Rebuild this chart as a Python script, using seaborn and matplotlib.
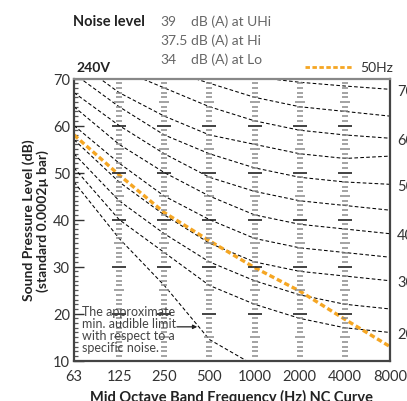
import numpy as np
import pandas as pd
import matplotlib
matplotlib.use("Agg")
import matplotlib.pyplot as plt
import seaborn as sns

# ---------------------------------------------------------
# data
# ---------------------------------------------------------
freq_labels = ["63", "125", "250", "500", "1000", "2000", "4000", "8000"]

nc_levels = [20, 25, 30, 35, 40, 45, 50, 55, 60, 65, 70]
nc_20 = [51, 40, 33, 26, 22, 19, 17, 16]
nc_25 = [54, 44, 37, 31, 27, 24, 22, 21]
nc_30 = [57, 48, 41, 35, 31, 29, 28, 27]
nc_35 = [60, 52, 45, 40, 36, 34, 33, 32]
nc_40 = [64, 56, 50, 45, 41, 39, 38, 37]
nc_45 = [67, 60, 54, 49, 46, 44, 43, 42]
nc_50 = [71, 64, 58, 54, 51, 49, 48, 47.5]
nc_55 = [74, 67, 62, 58, 56, 54, 53, 53.5]
nc_60 = [77, 72, 68, 64, 61, 59, 58, 57.3]
nc_65 = [80, 76, 72, 69, 66, 64, 63, 62]
nc_70 = [83, 79, 75, 72, 70.3, 69.2, 68.4, 67.7]
nc_curves = [nc_20, nc_25, nc_30, nc_35, nc_40, nc_45,
             nc_50, nc_55, nc_60, nc_65, nc_70]

# min. audible limit (only up to 1000 Hz, drops below chart after)
min_audible = [48, 36, 26, 14.5, 9]

# measured unit, 50Hz
spl_50hz = [58, 49.5, 41.5, 35.5, 29.8, 24.8, 18.8, 13]

noise_values = ["39", "37.5", "34"]
noise_modes = ["dB (A) at UHi", "dB (A) at Hi", "dB (A) at Lo"]

# ---------------------------------------------------------
# figure
# ---------------------------------------------------------
sns.set_style("white")
plt.rcParams["font.family"] = ["Lato", "DejaVu Sans"]

W, H = 407, 402
fig = plt.figure(figsize=(W / 100, H / 100), dpi=100)
ax = fig.add_axes([74 / W, 1 - 361.7 / H, (390 - 74) / W, (361.7 - 79.5) / H])

pos = np.arange(len(freq_labels))

# NC curves
for curve in nc_curves:
    sns.lineplot(x=pos, y=curve, ax=ax, color="black",
                 linestyle=(0, (3.5, 2.2)), linewidth=0.75, sort=False)

sns.lineplot(x=pos[:len(min_audible)], y=min_audible, ax=ax, color="black",
             linestyle=(0, (3.5, 2.2)), linewidth=0.75, sort=False)

# 50Hz
sns.lineplot(x=pos, y=spl_50hz, ax=ax, color="#f5a623",
             linestyle=(0, (1.6, 0.9)), linewidth=2.4, sort=False)

# tick columns at each frequency
for p in pos[1:-1]:
    lv = np.arange(11, 70)
    minor = lv[lv % 5 != 0]
    mid = lv[(lv % 5 == 0) & (lv % 10 != 0)]
    major = np.arange(20, 70, 10)
    ax.plot([p] * len(minor), minor, ls="none", marker="_", ms=4.2,
            mew=1.1, color="#8a8a8a")
    ax.plot([p] * len(mid), mid, ls="none", marker="_", ms=6.5,
            mew=1.1, color="#8a8a8a")
    ax.plot([p] * len(major), major, ls="none", marker="_", ms=10,
            mew=1.2, color="#222222")

ax.set_xlim(0, 7)
ax.set_ylim(10, 70)
ax.set_xticks(pos)
ax.set_xticklabels(freq_labels)
ax.set_yticks(np.arange(10, 71, 10))
ax.set_yticks(np.arange(10, 71, 1), minor=True)
ax.tick_params(axis="x", length=0, pad=6, labelsize=10.5, labelcolor="#333333")
ax.tick_params(axis="y", which="major", direction="in", length=7, width=1,
               left=True, right=True, labelsize=10.5, labelcolor="#333333", pad=3,
               color="#333333")
ax.tick_params(axis="y", which="minor", direction="in", length=3.2, width=0.9,
               left=True, right=True, color="#555555")

for side in ["left", "bottom", "right"]:
    ax.spines[side].set_color("#444444")
    ax.spines[side].set_linewidth(1.6)
ax.spines["top"].set_color("#888888")
ax.spines["top"].set_linewidth(1.6)

# right side NC labels at 8000 Hz end of curves
ax2 = ax.twinx()
ax2.set_ylim(10, 70)
right_ticks = [c[-1] for c, n in zip(nc_curves, nc_levels) if n % 10 == 0]
right_labels = [str(n) for n in nc_levels if n % 10 == 0]
ax2.set_yticks(right_ticks)
ax2.set_yticklabels(right_labels)
ax2.tick_params(axis="y", length=0, pad=5, labelsize=10.5, labelcolor="#333333")
for s in ax2.spines.values():
    s.set_visible(False)

# labels
ax.set_xlabel("Mid Octave Band Frequency (Hz) NC Curve", fontsize=10.5,
              fontweight="bold", color="#222222", labelpad=4)
ax.set_ylabel("Sound Pressure Level (dB)\n(standard 0.0002\u00b5 bar)",
              fontsize=10, fontweight="bold", color="#222222",
              linespacing=1.1, labelpad=3)

# annotation
ax.annotate("", xy=(2.73, 17.2), xytext=(2.28, 17.2),
            arrowprops=dict(arrowstyle="-|>", color="#222222", lw=0.9,
                            mutation_scale=6, shrinkA=0, shrinkB=0))
ax.text(0.17, 21.9, "The approximate\nmin. audible limit\nwith respect to a\nspecific noise.",
        fontsize=9, color="#444444", va="top", ha="left", linespacing=1.02)

# header texts
fig.text(73 / W, 1 - 22 / H, "Noise level", fontsize=10.5, fontweight="bold",
         color="#222222", va="center")
for i, (v, m) in enumerate(zip(noise_values, noise_modes)):
    y = 1 - (22 + 19 * i) / H
    fig.text(160 / W, y, v, fontsize=10, color="#666666", va="center")
    fig.text(191 / W, y, m, fontsize=10, color="#666666", va="center")

fig.text(76 / W, 1 - 68 / H, "240V", fontsize=10, fontweight="bold",
         color="#222222", va="center")

# legend
fig.add_artist(matplotlib.lines.Line2D([305 / W, 353 / W], [1 - 68 / H, 1 - 68 / H],
                                       color="#f5a623", lw=2.0,
                                       linestyle=(0, (1.6, 0.9))))
fig.text(360 / W, 1 - 68 / H, "50Hz", fontsize=10, color="#333333", va="center")

fig.savefig("out.png", dpi=100)
